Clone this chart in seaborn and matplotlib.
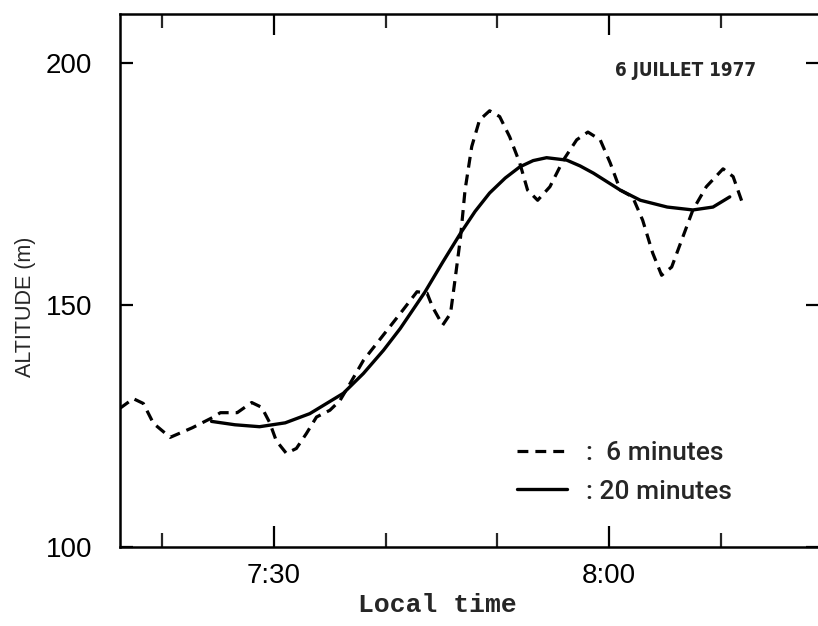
import numpy as np
import pandas as pd
import seaborn as sns
import matplotlib
matplotlib.use("Agg")
import matplotlib.pyplot as plt
from matplotlib.ticker import FixedLocator, NullFormatter

# minutes after 7:00 local time
t6 = [16.2, 17.4, 18.3, 19.2, 20.7, 22.7, 24.5, 25.2, 26.7, 28.0, 28.9, 29.6,
      30.2, 31.1, 32.0, 32.9, 33.8, 35.0, 35.9, 36.8, 38.0, 41.3, 42.8, 43.7,
      44.2, 45.1, 45.8, 46.2, 46.7, 47.1, 47.7, 48.4, 49.3, 50.2, 51.1, 52.0,
      52.7, 53.6, 54.7, 55.9, 57.1, 58.1, 59.2, 60.1, 61.0, 62.1, 63.0, 63.9,
      64.7, 65.6, 66.5, 67.5, 68.7, 70.2, 71.1, 72.0]
alt6 = [128.6, 130.6, 129.6, 125.5, 122.6, 124.6, 126.7, 127.7, 127.7, 129.8, 128.8, 125.7,
        121.9, 119.3, 120.3, 123.4, 126.8, 128.2, 130.2, 133.7, 138.5, 148.2, 152.7, 152.4,
        149.5, 145.8, 148.2, 155.1, 164.0, 173.7, 182.7, 188.2, 190.1, 188.9, 184.7, 179.3,
        173.7, 171.6, 174.4, 179.9, 184.1, 185.7, 184.1, 179.3, 173.7, 172.3, 167.5, 160.7,
        156.1, 157.8, 163.4, 169.6, 174.4, 178.1, 176.5, 170.6]

t20 = [24.4, 26.5, 28.7, 31.0, 33.2, 36.2, 38.0, 39.8, 41.3, 43.5, 45.1, 46.7, 48.0,
       49.3, 50.7, 52.0, 53.2, 54.4, 56.2, 57.4, 58.6, 61.0, 62.8, 65.2, 67.5, 69.3, 70.8]
alt20 = [125.9, 125.2, 124.8, 125.6, 127.5, 131.7, 135.8, 140.6, 145.1, 152.6, 158.8, 164.8, 169.3,
         173.1, 176.2, 178.5, 179.8, 180.4, 179.9, 178.7, 177.2, 173.7, 171.6, 170.2, 169.6, 170.2, 172.3]

major_x = [30, 60]
major_labels = ["7:30", "8:00"]
minor_x = [20, 40, 50, 70]
y_ticks = [100, 150, 200]
legend_labels = [":  6 minutes", ": 20 minutes"]

df6 = pd.DataFrame({"t": t6, "alt": alt6})
df20 = pd.DataFrame({"t": t20, "alt": alt20})

sns.set_style("white")
plt.rcParams["font.family"] = ["Liberation Sans", "DejaVu Sans"]

fig = plt.figure(figsize=(8.18, 6.26), dpi=100)
ax = fig.add_axes([120 / 818, 79.3 / 626, 698 / 818, 532.7 / 626])

sns.lineplot(data=df6, x="t", y="alt", ax=ax, color="black", lw=2.3,
             linestyle=(0, (3.4, 2.2)), estimator=None, sort=False, label=legend_labels[0])
sns.lineplot(data=df20, x="t", y="alt", ax=ax, color="black", lw=2.4,
             estimator=None, sort=False, label=legend_labels[1])

ax.set_xlim(16.21, 78.7)
ax.set_ylim(100, 210.1)

for s in ["left", "top", "bottom"]:
    ax.spines[s].set_visible(True)
    ax.spines[s].set_color("black")
    ax.spines[s].set_linewidth(1.8)
ax.spines["right"].set_visible(False)

ax.set_xticks(major_x)
ax.set_xticklabels(major_labels)
ax.xaxis.set_minor_locator(FixedLocator(minor_x))
ax.xaxis.set_minor_formatter(NullFormatter())
ax.set_yticks(y_ticks)
ax.set_yticklabels([str(v) for v in y_ticks])

ax.tick_params(axis="x", which="major", direction="in", length=15, width=1.6,
               top=True, bottom=True, labelsize=20, pad=12, colors="black")
ax.tick_params(axis="x", which="minor", direction="in", length=10, width=1.6,
               top=True, bottom=True)
ax.tick_params(axis="y", which="major", direction="in", length=9, width=1.6,
               left=True, right=True, labelsize=20, pad=20, colors="black")

ax.set_xlabel("Local time", fontsize=19, fontweight="bold",
              family=["Liberation Mono", "DejaVu Sans Mono"], va="center")
ax.xaxis.set_label_coords((437 - 120) / 698, -(605 - 546.7) / 532.7)
ax.set_ylabel("ALTITUDE (m)", fontsize=15.5, va="center")
ax.yaxis.set_label_coords((25 - 120) / 698, (546.7 - 307) / 532.7)

ax.text((686 - 120) / 698, (546.7 - 71) / 532.7, "6 JUILLET 1977", transform=ax.transAxes,
        ha="center", va="center", fontsize=13.5, fontweight="bold",
        fontstretch="condensed", family=["DejaVu Sans"])

leg = ax.legend(loc="upper left", bbox_to_anchor=((517 - 120) / 698, (546.7 - 441) / 532.7),
                frameon=False, handlelength=1.9, handletextpad=0.7,
                borderpad=0, borderaxespad=0, labelspacing=0.55,
                prop={"family": ["Roboto", "DejaVu Sans"], "size": 19, "weight": "medium"})
for line in leg.get_lines():
    line.set_color("black")

fig.savefig("out.png", dpi=100)
